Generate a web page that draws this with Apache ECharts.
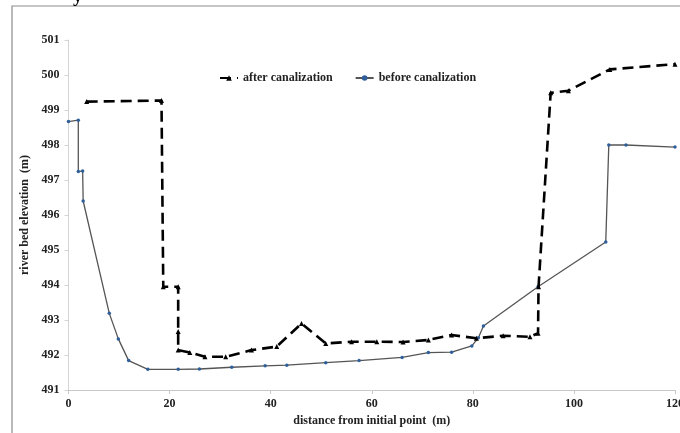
<!DOCTYPE html>
<html>
<head>
<meta charset="utf-8">
<script src="https://cdn.jsdelivr.net/npm/echarts@6/dist/echarts.min.js"></script>
<style>
html, body { margin: 0; padding: 0; background: #fff; }
#chart-div { width: 680px; height: 433px; }
</style>
</head>
<body>
<div id="chart-div"></div>
<script>
// after canalization (dashed black line)
const afterX = [3.6, 18.4, 18.75, 21.7, 21.7, 21.7, 24.0, 27.0, 31.1, 36.2, 41.2, 46.1, 50.9, 56.0, 61.0, 66.2, 71.2, 75.8, 80.7, 86.0, 91.3, 92.9, 93.0, 95.4, 98.9, 107.1, 120]
const afterY = [499.24, 499.27, 493.95, 493.95, 492.67, 492.14, 492.07, 491.95, 491.95, 492.14, 492.24, 492.9, 492.33, 492.38, 492.38, 492.37, 492.43, 492.57, 492.48, 492.55, 492.52, 492.62, 493.95, 499.49, 499.55, 500.16, 500.31]

// before canalization (grey line, blue dots)
const beforeX = [0, 1.94, 1.94, 2.8, 2.9, 8.07, 9.86, 11.9, 15.7, 21.7, 25.9, 32.3, 38.9, 43.2, 50.9, 57.5, 66.0, 71.2, 75.8, 79.8, 81.1, 82.1, 92.9, 106.3, 106.9, 110.3, 120]
const beforeY = [498.67, 498.71, 497.24, 497.26, 496.4, 493.19, 492.46, 491.84, 491.59, 491.59, 491.6, 491.65, 491.69, 491.71, 491.78, 491.84, 491.93, 492.07, 492.08, 492.26, 492.49, 492.83, 493.95, 495.23, 498.0, 498.0, 497.94]

const xTicks = { min: 0, max: 120, interval: 20 }
const yTicks = { min: 491, max: 501, interval: 1 }

const font = 'Liberation Serif, Times New Roman, serif'

function pairs(xs, ys) {
    return xs.map((x, i) => [x, ys[i]])
}

let myChart = echarts.init(document.getElementById('chart-div'))

const option = {
    animation: false,
    textStyle: { fontFamily: font },
    graphic: [
        { // outer frame of the figure
            type: 'rect',
            shape: { x: 12, y: 6, width: 700, height: 460 },
            style: { fill: 'none', stroke: '#8c8c8c', lineWidth: 1.2 }
        },
        { // clipped caption letter above the frame
            type: 'text',
            left: 73, top: -12,
            style: { text: 'y', font: 'bold 19px ' + font, fill: '#000' }
        }
    ],
    legend: {
        top: 67,
        left: 214,
        itemGap: 22,
        itemWidth: 18,
        itemHeight: 7,
        textStyle: { fontFamily: font, fontWeight: 'bold', fontSize: 12, color: '#222' },
        data: ['after canalization', 'before canalization']
    },
    grid: { left: 68.5, right: 5, top: 40, bottom: 43, outerBoundsMode: 'none' },
    xAxis: {
        type: 'value',
        min: xTicks.min, max: xTicks.max, interval: xTicks.interval,
        name: 'distance from initial point  (m)',
        nameLocation: 'middle',
        nameGap: 23,
        nameTextStyle: { fontFamily: font, fontWeight: 'bold', fontSize: 12, color: '#222' },
        axisLine: { lineStyle: { color: '#c8c8c8', width: 1 } },
        axisTick: { show: true, length: 4, lineStyle: { color: '#c8c8c8' } },
        axisLabel: { fontFamily: font, fontWeight: 'bold', fontSize: 12, color: '#222', margin: 8 },
        splitLine: { show: false }
    },
    yAxis: {
        type: 'value',
        min: yTicks.min, max: yTicks.max, interval: yTicks.interval,
        name: 'river bed elevation  (m)',
        nameLocation: 'middle',
        nameRotate: 90,
        nameGap: 37,
        nameTextStyle: { fontFamily: font, fontWeight: 'bold', fontSize: 12, color: '#222' },
        axisLine: { show: true, lineStyle: { color: '#d4d4d4', width: 1 } },
        axisTick: { show: true, length: 4, lineStyle: { color: '#d4d4d4' } },
        axisLabel: { fontFamily: font, fontWeight: 'bold', fontSize: 12, color: '#222', margin: 9 },
        splitLine: { show: false }
    },
    series: [
        {
            name: 'after canalization',
            type: 'line',
            data: pairs(afterX, afterY),
            symbol: 'triangle',
            symbolSize: 5,
            itemStyle: { color: '#000' },
            lineStyle: { color: '#000', width: 2.6, type: [11, 6] },
            z: 3
        },
        {
            name: 'before canalization',
            type: 'line',
            data: pairs(beforeX, beforeY),
            symbol: 'circle',
            symbolSize: 3.5,
            itemStyle: { color: '#2f5f9a' },
            lineStyle: { color: '#555', width: 1.3 },
            z: 2
        }
    ]
}

myChart.setOption(option)
</script>
</body>
</html>
